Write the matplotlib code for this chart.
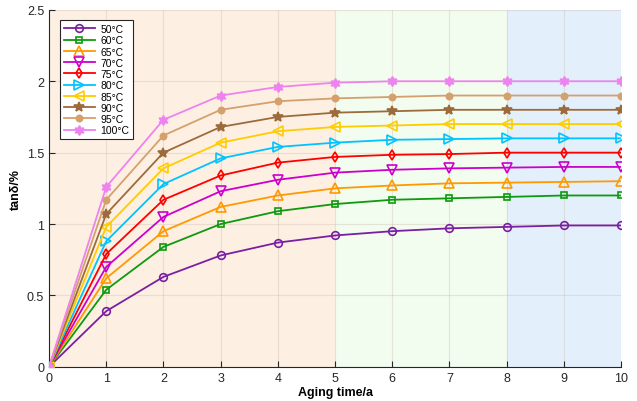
import numpy as np
import matplotlib
matplotlib.use('Agg')
import matplotlib.pyplot as plt

plt.rcParams['font.family'] = ['Liberation Sans', 'DejaVu Sans']

# aging time in years
years = [0, 1, 2, 3, 4, 5, 6, 7, 8, 9, 10]

# tan delta (%) per temperature
t50 = [0, 0.39, 0.63, 0.78, 0.87, 0.92, 0.95, 0.97, 0.98, 0.99, 0.99]
t60 = [0, 0.54, 0.84, 1.00, 1.09, 1.14, 1.17, 1.18, 1.19, 1.20, 1.20]
t65 = [0, 0.62, 0.95, 1.12, 1.20, 1.25, 1.27, 1.285, 1.29, 1.295, 1.30]
t70 = [0, 0.70, 1.05, 1.23, 1.31, 1.36, 1.38, 1.39, 1.395, 1.40, 1.40]
t75 = [0, 0.79, 1.17, 1.34, 1.43, 1.47, 1.485, 1.49, 1.50, 1.50, 1.50]
t80 = [0, 0.88, 1.28, 1.46, 1.54, 1.57, 1.59, 1.595, 1.60, 1.60, 1.60]
t85 = [0, 0.98, 1.39, 1.57, 1.65, 1.68, 1.69, 1.70, 1.70, 1.70, 1.70]
t90 = [0, 1.07, 1.50, 1.68, 1.75, 1.78, 1.79, 1.80, 1.80, 1.80, 1.80]
t95 = [0, 1.17, 1.62, 1.80, 1.86, 1.88, 1.89, 1.90, 1.90, 1.90, 1.90]
t100 = [0, 1.26, 1.73, 1.90, 1.96, 1.99, 2.00, 2.00, 2.00, 2.00, 2.00]

labels = ['50°C', '60°C', '65°C', '70°C', '75°C', '80°C', '85°C', '90°C', '95°C', '100°C']
series = [t50, t60, t65, t70, t75, t80, t85, t90, t95, t100]

colors = ['#7a1fa2', '#0d9a0d', '#ff9900', '#cc00cc', '#ff0000',
          '#00c3ff', '#ffcc00', '#9c6b3c', '#d4a06e', '#ee82ee']
markers = ['o', 's', '^', 'v', 'd', '>', '<', '*', 'o', (6, 1, 0)]
filled = [False, False, False, False, False, False, False, True, True, True]
sizes = [5.5, 4.5, 6.5, 6.5, 5.5, 6.5, 6.5, 7.5, 4.5, 7]

fig = plt.figure(figsize=(6.37, 4.02), dpi=100)
ax = fig.add_axes([0.077, 0.085, 0.898, 0.888])

# shaded aging stages
ax.axvspan(0, 5, color='#fdf0e3', zorder=0, lw=0)
ax.axvspan(5, 8, color='#f2fcef', zorder=0, lw=0)
ax.axvspan(8, 10, color='#e3f0fc', zorder=0, lw=0)

for y, lab, c, m, f, s in zip(series, labels, colors, markers, filled, sizes):
    ax.plot(years, y, color=c, marker=m, markersize=s, lw=1.3,
            markerfacecolor=c if f else 'none', markeredgecolor=c,
            markeredgewidth=1.2, label=lab, zorder=3)

ax.set_xlim(0, 10)
ax.set_ylim(0, 2.5)
ax.set_xticks(range(0, 11))
ax.set_yticks([0, 0.5, 1, 1.5, 2, 2.5])
ax.set_yticklabels(['0', '0.5', '1', '1.5', '2', '2.5'])
ax.grid(True, color='#c8b8a8', alpha=0.35, lw=0.8, zorder=1)
ax.set_axisbelow(True)
ax.tick_params(direction='in', length=4, colors='#262626', labelsize=9,
               top=False, right=False)

ax.spines['top'].set_visible(False)
ax.spines['right'].set_visible(False)
ax.spines['left'].set_color('#262626')
ax.spines['bottom'].set_color('#262626')

ax.set_xlabel('Aging time/a', fontsize=9, fontweight='bold', labelpad=2)
ax.set_ylabel('tanδ/%', fontsize=9, fontweight='bold', labelpad=4)

leg = ax.legend(loc='upper left', fontsize=7.5, handlelength=3.0, fancybox=False,
                edgecolor='#262626', framealpha=1, borderpad=0.35,
                labelspacing=0.12, handletextpad=0.5, bbox_to_anchor=(0.01, 0.985))
leg.get_frame().set_linewidth(0.8)

plt.savefig('out.png', dpi=100)
